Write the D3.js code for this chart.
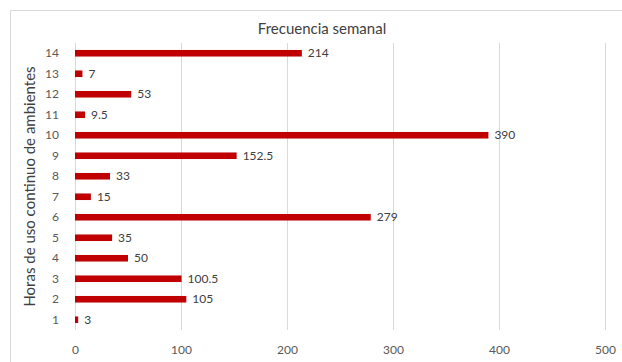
<!DOCTYPE html>
<html>
<head>
<meta charset="utf-8">
<script src="https://cdn.jsdelivr.net/npm/d3@7"></script>
<style>
  body { margin: 0; background: #fff; }
  text { font-family: Lato, "Open Sans", sans-serif; }
</style>
</head>
<body>
<div id="chart"></div>
<script>
// Hours of continuous use (categories) and weekly frequency
const hours = ['1', '2', '3', '4', '5', '6', '7', '8', '9', '10', '11', '12', '13', '14'];
const frequency = [3, 105, 100.5, 50, 35, 279, 15, 33, 152.5, 390, 9.5, 53, 7, 214];
const xTicks = [0, 100, 200, 300, 400, 500];

const width = 622, height = 362;
const margin = { top: 43, right: 17, bottom: 32, left: 75 };

const svg = d3.select('#chart').append('svg')
  .attr('width', width)
  .attr('height', height);

// Chart frame
svg.append('rect')
  .attr('x', 10.5).attr('y', 10.5)
  .attr('width', 640).attr('height', 400)
  .attr('fill', '#fff')
  .attr('stroke', '#d9d9d9');

const x = d3.scaleLinear()
  .domain([0, 500])
  .range([margin.left, width - margin.right]);

const y = d3.scaleBand()
  .domain(hours.slice().reverse())
  .range([margin.top, height - margin.bottom])
  .paddingInner(0.68)
  .paddingOuter(0.34);

// Gridlines
svg.append('g')
  .selectAll('line')
  .data(xTicks)
  .join('line')
  .attr('x1', d => x(d) + 0.5).attr('x2', d => x(d) + 0.5)
  .attr('y1', margin.top).attr('y2', height - margin.bottom)
  .attr('stroke', '#d9d9d9');

// Bars
svg.append('g')
  .selectAll('rect')
  .data(hours)
  .join('rect')
  .attr('x', x(0))
  .attr('y', d => y(d))
  .attr('width', (d, i) => x(frequency[i]) - x(0))
  .attr('height', y.bandwidth())
  .attr('fill', '#c00000');

// Data labels
svg.append('g')
  .selectAll('text')
  .data(hours)
  .join('text')
  .attr('x', (d, i) => x(frequency[i]) + 6)
  .attr('y', d => y(d) + y.bandwidth() / 2)
  .attr('dy', '0.35em')
  .attr('font-size', 12)
  .attr('fill', '#404040')
  .text((d, i) => String(frequency[i]));

// X axis labels
const xAxis = svg.append('g')
  .attr('transform', `translate(0,${height - margin.bottom})`)
  .call(d3.axisBottom(x).tickValues(xTicks).tickSize(0).tickPadding(15));
xAxis.select('.domain').remove();
xAxis.selectAll('text').attr('font-size', 12).attr('fill', '#595959')
  .style('font-family', 'Lato, sans-serif');

// Y axis labels
const yAxis = svg.append('g')
  .attr('transform', `translate(${margin.left},0)`)
  .call(d3.axisLeft(y).tickSize(0).tickPadding(16));
yAxis.select('.domain').remove();
yAxis.selectAll('text').attr('font-size', 12).attr('fill', '#595959')
  .style('font-family', 'Lato, sans-serif');

// Title
svg.append('text')
  .attr('x', 322).attr('y', 34)
  .attr('text-anchor', 'middle')
  .attr('font-size', 15)
  .attr('fill', '#404040')
  .text('Frecuencia semanal');

// Y axis title
svg.append('text')
  .attr('transform', `translate(35,${(margin.top + height - margin.bottom) / 2}) rotate(-90)`)
  .attr('text-anchor', 'middle')
  .attr('font-size', 15)
  .attr('fill', '#404040')
  .text('Horas de uso continuo de ambientes');
</script>
</body>
</html>
